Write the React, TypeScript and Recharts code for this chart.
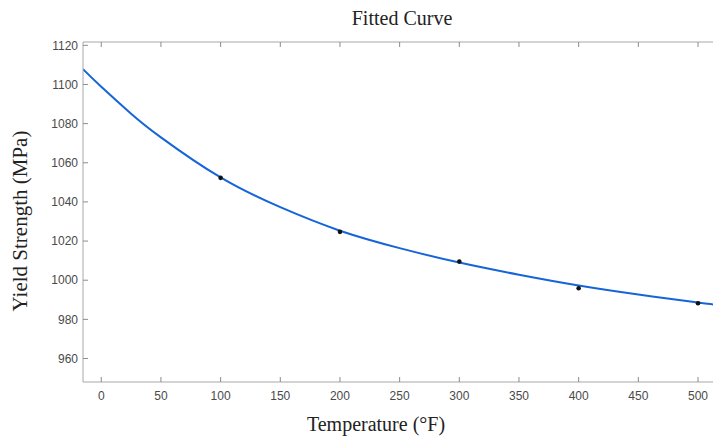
import { ComposedChart, Line, Scatter, XAxis, YAxis } from 'recharts';

// fitted curve, sampled along the temperature range
const fitTemps = [-15.3, 0, 25, 50, 100, 150, 200, 250, 300, 350, 400, 450, 500, 513.4];
const fitStrength = [1107.8, 1098.8, 1085.1, 1073.0, 1052.5, 1037.3, 1025.3, 1016.4, 1009.0, 1002.8, 997.3, 992.7, 988.6, 987.6];

// measured points
const testTemps = [100, 200, 300, 400, 500];
const testStrength = [1052.3, 1024.7, 1009.5, 995.9, 988.2];

const tempTicks = [0, 50, 100, 150, 200, 250, 300, 350, 400, 450, 500];
const strengthTicks = [960, 980, 1000, 1020, 1040, 1060, 1080, 1100, 1120];

const fitData = fitTemps.map((x, i) => ({ x, y: fitStrength[i] }));
const testData = testTemps.map((x, i) => ({ x, y: testStrength[i] }));

const AXIS = '#a8a8a8';
const TICK = '#8c8c8c';
const TICK_LEN = 5;
const sans = '"Liberation Sans", Arial, sans-serif';
const serif = '"Liberation Serif", "Times New Roman", serif';
const X_DOMAIN = [-15.3, 513.4];

const BOTTOM_GAP = 9;
const LEFT_GAP = 5;

// ticks point into the plot, so the marks are drawn together with the labels
function BottomTick({ x, y, payload }: any) {
  const axisY = y - BOTTOM_GAP;
  return (
    <g>
      <line x1={x} x2={x} y1={axisY} y2={axisY - TICK_LEN} stroke={TICK} />
      <text x={x} y={y} dy="0.71em" textAnchor="middle" fontFamily={sans} fontSize={12} fill="#4a4a4a">
        {payload.value}
      </text>
    </g>
  );
}

function LeftTick({ x, y, payload }: any) {
  const axisX = x + LEFT_GAP;
  return (
    <g>
      <line x1={axisX} x2={axisX + TICK_LEN} y1={y} y2={y} stroke={TICK} />
      <text x={x} y={y} dy="0.355em" textAnchor="end" fontFamily={sans} fontSize={12} fill="#4a4a4a">
        {payload.value}
      </text>
    </g>
  );
}

function TopTick({ x, y }: any) {
  return <line x1={x} x2={x} y1={y} y2={y + TICK_LEN} stroke={TICK} />;
}

export default function App() {
  return (
    <div
      style={{
        position: 'fixed',
        top: 0,
        left: 0,
        width: 713,
        height: 439,
        overflow: 'hidden',
        background: '#fff',
      }}
    >
      <svg width={713} height={40} style={{ position: 'absolute', top: 0, left: 0 }}>
        <text x={402} y={25} textAnchor="middle" fontFamily={serif} fontSize={20} fill="#222">
          Fitted Curve
        </text>
      </svg>
      <ComposedChart
        width={720}
        height={439}
        margin={{ top: 32, right: 6, bottom: 0, left: 0 }}
        style={{ position: 'absolute', top: 0, left: 0 }}
      >
        <XAxis
          xAxisId="top"
          orientation="top"
          type="number"
          dataKey="x"
          domain={X_DOMAIN}
          ticks={tempTicks}
          allowDataOverflow
          height={10}
          tickSize={0}
          tickMargin={0}
          tickLine={false}
          tick={<TopTick />}
          stroke={AXIS}
        />
        <XAxis
          xAxisId="b"
          type="number"
          dataKey="x"
          domain={X_DOMAIN}
          ticks={tempTicks}
          allowDataOverflow
          height={57}
          tickSize={0}
          tickMargin={BOTTOM_GAP}
          tickLine={false}
          tick={<BottomTick />}
          stroke={AXIS}
          label={{
            content: () => (
              <text x={376} y={431} textAnchor="middle" fontFamily={serif} fontSize={20} fill="#222">
                Temperature (°F)
              </text>
            ),
          }}
        />
        <YAxis
          type="number"
          domain={[948, 1121.7]}
          ticks={strengthTicks}
          allowDataOverflow
          width={83}
          tickSize={0}
          tickMargin={LEFT_GAP}
          tickLine={false}
          tick={<LeftTick />}
          stroke={AXIS}
          label={{
            content: () => (
              <text
                transform="translate(27,221) rotate(-90)"
                textAnchor="middle"
                fontFamily={serif}
                fontSize={21}
                fill="#222"
              >
                Yield Strength (MPa)
              </text>
            ),
          }}
        />
        {/* invisible copy so the top axis has a series bound to it */}
        <Line
          xAxisId="top"
          data={fitData}
          dataKey="y"
          stroke="none"
          dot={false}
          activeDot={false}
          isAnimationActive={false}
        />
        <Line
          xAxisId="b"
          data={fitData}
          dataKey="y"
          type="natural"
          stroke="#1565d8"
          strokeWidth={2}
          dot={false}
          activeDot={false}
          isAnimationActive={false}
        />
        <Scatter
          xAxisId="b"
          data={testData}
          dataKey="y"
          fill="#111"
          isAnimationActive={false}
          shape={(p: any) => <circle cx={p.cx} cy={p.cy} r={2.3} fill="#111" />}
        />
      </ComposedChart>
    </div>
  );
}
